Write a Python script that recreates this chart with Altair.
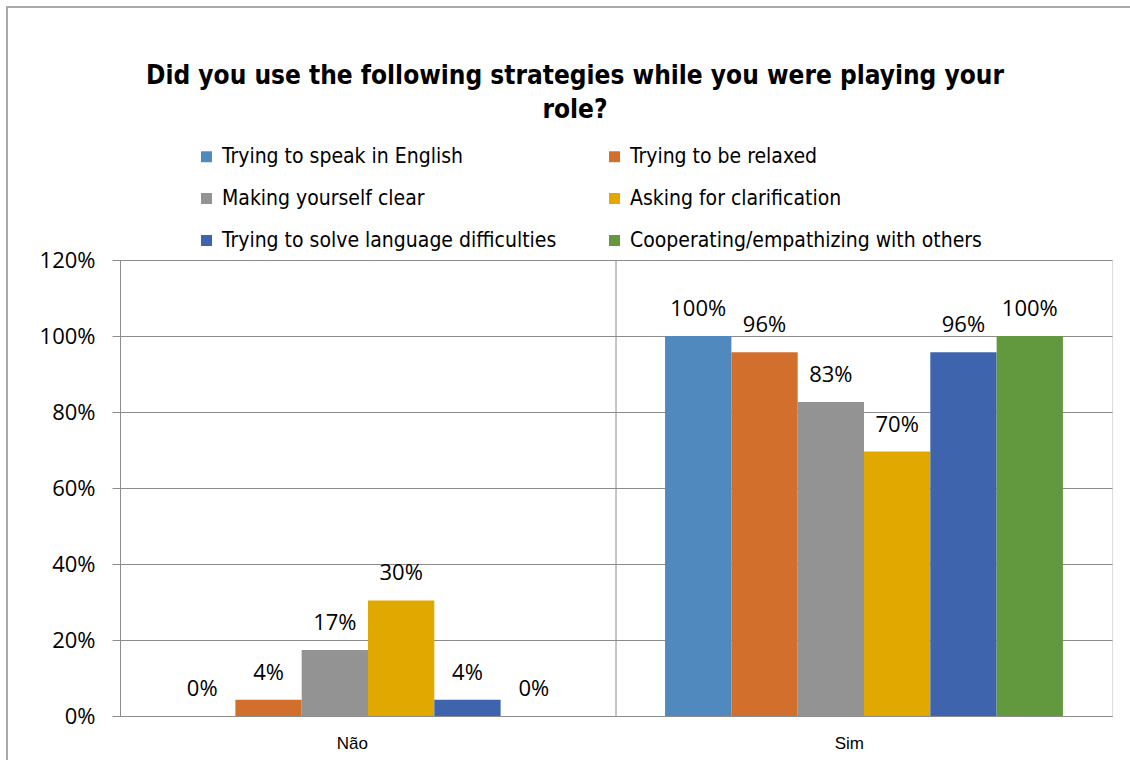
import altair as alt
import pandas as pd

categories = ["Não", "Sim"]
series = [
    "Trying to speak in English",
    "Trying to be relaxed",
    "Making yourself clear",
    "Asking for clarification",
    "Trying to solve language difficulties",
    "Cooperating/empathizing with others",
]
values_nao = [0.0, 0.043, 0.174, 0.304, 0.043, 0.0]
values_sim = [1.0, 0.957, 0.826, 0.696, 0.957, 1.0]
colors = ["#5089BE", "#D36F2C", "#939393", "#E1A900", "#3D64AC", "#63993E"]

rows = []
for s, v in zip(series, values_nao):
    rows.append({"cat": "Não", "series": s, "value": v})
for s, v in zip(series, values_sim):
    rows.append({"cat": "Sim", "series": s, "value": v})
df = pd.DataFrame(rows)

label_font = "Open Sans"
narrow = "DejaVu Sans Condensed"

x_enc = alt.X(
    "cat:N",
    sort=categories,
    scale=alt.Scale(paddingInner=0, paddingOuter=0),
    axis=alt.Axis(
        title=None, labelAngle=0, ticks=False, domainColor="#8c8c8c",
        labelFontSize=17, labelFont="Liberation Sans", labelColor="#000000",
        labelPadding=27,
    ),
)
xoff = alt.XOffset(
    "series:N", sort=series, scale=alt.Scale(paddingInner=0, paddingOuter=0.74)
)
y_enc = alt.Y(
    "value:Q",
    scale=alt.Scale(domain=[0, 1.2], nice=False),
    axis=alt.Axis(
        title=None, format=".0%", values=[0, 0.2, 0.4, 0.6, 0.8, 1.0, 1.2],
        grid=True, gridColor="#8c8c8c", domainColor="#8c8c8c",
        tickColor="#8c8c8c", tickSize=8, labelFontSize=22, labelFont=label_font,
        labelColor="#000000", labelPadding=17,
    ),
)

bars = alt.Chart(df).mark_bar().encode(
    x=x_enc,
    xOffset=xoff,
    y=y_enc,
    color=alt.Color(
        "series:N", sort=series,
        scale=alt.Scale(domain=series, range=colors),
        legend=alt.Legend(
            title=None, orient="none", legendX=76, legendY=-114, columns=2,
            direction="horizontal",
            columnPadding=47, rowPadding=20, symbolType="square",
            symbolSize=120, symbolStrokeWidth=0, labelFont=narrow,
            labelFontSize=21, labelColor="#000000", labelOffset=5,
            labelLimit=500,
        ),
    ),
)

labels = alt.Chart(df).mark_text(
    baseline="alphabetic", dy=-20, fontSize=22, font=label_font, color="#000000"
).encode(
    x=alt.X("cat:N", sort=categories),
    xOffset=alt.XOffset("series:N", sort=series),
    y="value:Q",
    text=alt.Text("value:Q", format=".0%"),
)

sep = alt.Chart(pd.DataFrame({"cat": ["Sim"]})).mark_rule(
    color="#8c8c8c", strokeWidth=1
).encode(
    x=alt.X("cat:N", sort=categories, bandPosition=0),
)

border = alt.Chart(pd.DataFrame({"a": [0]})).mark_rect(
    fill=None, stroke="#aaaaaa", strokeWidth=2
).encode(
    x=alt.value(-113), x2=alt.value(1030), y=alt.value(-253), y2=alt.value(520)
)

chart = alt.layer(border, sep, bars, labels).properties(
    width=992,
    height=456,
    padding={"left": 120, "top": 260, "right": 18, "bottom": 44},
    autosize=alt.AutoSizeParams(type="none"),
    title=alt.TitleParams(
        text=["Did you use the following strategies while you were playing your", "role?"],
        font=narrow, fontSize=26, fontWeight="bold", color="#000000",
        anchor="middle", frame="group", dx=-41, offset=-117, lineHeight=34,
    ),
).configure_view(stroke="#8c8c8c").configure(background="#ffffff")

chart.save("out.html", embed_options={"renderer": "svg", "actions": False})
